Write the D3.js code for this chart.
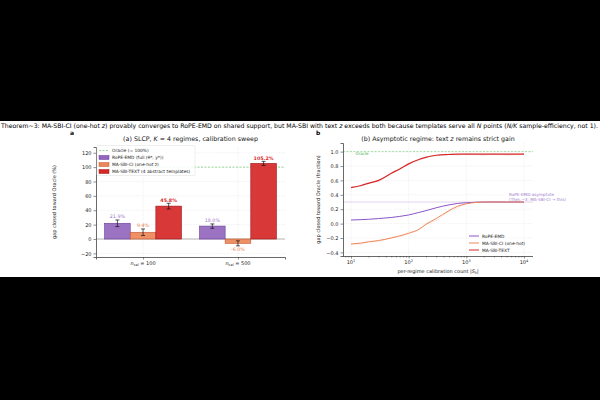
<!DOCTYPE html>
<html>
<head>
<meta charset="utf-8">
<script src="https://cdn.jsdelivr.net/npm/d3@7"></script>
<style>
  html, body { margin: 0; padding: 0; background: #000; }
  svg text { font-family: "DejaVu Sans", sans-serif; }
</style>
</head>
<body>
<div id="vizcontainer"></div>
<script>
const width = 600,
  height = 400;

// ---- data (panel a) ----
const groups = ['100', '500'];
const methods = ['RoPE-EMD', 'MA-SBI-CI', 'MA-SBI-TEXT'];
const ropeVals = [21.9, 18.0];
const ciVals = [9.4, -6.0];
const textVals = [45.8, 105.2];
const ropeErr = [4.6, 3.0];
const ciErr = [4.6, 3.5];
const textErr = [3.9, 2.8];
const barLabels = [['21.9%', '9.4%', '45.8%'], ['18.0%', '-6.0%', '105.2%']];

// ---- data (panel b) ----
const calCounts = [10, 15, 20, 30, 50, 70, 100, 150, 200, 300, 500, 700, 1000, 1500, 2000, 3000, 5000, 7000, 10000];
const ropeCurve = [0.05, 0.055, 0.06, 0.07, 0.085, 0.10, 0.12, 0.155, 0.18, 0.22, 0.26, 0.28, 0.29, 0.297, 0.30, 0.30, 0.30, 0.30, 0.30];
const ciCurve = [-0.285, -0.27, -0.255, -0.235, -0.20, -0.17, -0.135, -0.08, -0.01, 0.07, 0.18, 0.24, 0.275, 0.295, 0.30, 0.30, 0.30, 0.30, 0.30];
const textCurve = [0.50, 0.53, 0.56, 0.60, 0.70, 0.76, 0.83, 0.89, 0.92, 0.95, 0.96, 0.965, 0.965, 0.965, 0.965, 0.965, 0.965, 0.965, 0.965];
const ciRaw = [-0.27, -0.29, -0.24, -0.25, -0.19, -0.18, -0.12, -0.09, 0.01, 0.04, 0.17, 0.22, 0.28, 0.30, 0.29, 0.31, 0.29, 0.30, 0.29];
const textRaw = [0.51, 0.52, 0.57, 0.59, 0.70, 0.75, 0.84, 0.88, 0.93, 0.94, 0.97, 0.95, 0.97, 0.96, 0.95, 0.97, 0.95, 0.96, 0.97];

const colors = {
  'RoPE-EMD': '#9467bd',
  'MA-SBI-CI': '#ee8659',
  'MA-SBI-TEXT': '#d62728'
};
const edges = {
  'RoPE-EMD': '#6a3d9a',
  'MA-SBI-CI': '#c0572e',
  'MA-SBI-TEXT': '#9e1517'
};
const labelColors = {
  'RoPE-EMD': '#9a72c8',
  'MA-SBI-CI': '#ee7a4c',
  'MA-SBI-TEXT': '#d62728'
};

const svg = d3.select('#vizcontainer')
  .append('svg')
  .attr('width', width)
  .attr('height', height);

svg.append('rect').attr('width', width).attr('height', height).attr('fill', '#000');
svg.append('rect').attr('x', 0).attr('y', 121).attr('width', width).attr('height', 156).attr('fill', '#fff');

// main title
const title = svg.append('text')
  .attr('x', 1).attr('y', 128)
  .attr('font-size', 6.2)
  .attr('fill', '#000')
  .attr('textLength', 597)
  .attr('lengthAdjust', 'spacingAndGlyphs');
[['Theorem~3: MA-SBI-CI (one-hot ', false], ['z', true], [') provably converges to RoPE-EMD on shared support, but MA-SBI with text ', false],
 ['z', true], [' exceeds both because templates serve all ', false], ['N', true], [' points (', false], ['N/K', true],
 [' sample-efficiency, not 1).', false]]
  .forEach(([t, it]) => title.append('tspan').attr('font-style', it ? 'italic' : 'normal').text(t));

const axisColor = '#444';
const gridColor = '#e6e6e6';

function styleAxis(g) {
  g.selectAll('.domain').attr('stroke', axisColor).attr('stroke-width', 0.8);
  g.selectAll('.tick line').attr('stroke', axisColor).attr('stroke-width', 0.6);
  g.selectAll('.tick text').attr('font-size', 5).attr('fill', '#222').attr('font-family', 'DejaVu Sans');
}

// ================= panel a =================
const aL = 96, aR = 285, aT = 147, aB = 257;
const xa = d3.scaleLinear().domain([-0.4955, 1.4955]).range([aL, aR]);
const inner = d3.scaleBand().domain(methods).range([-0.405, 0.405]);
const ya = d3.scaleLinear().domain([-25, 128]).range([aB, aT]);

const pa = svg.append('g');

// grid
pa.selectAll('.hgrid').data(ya.ticks(8)).join('line')
  .attr('x1', aL).attr('x2', aR)
  .attr('y1', d => ya(d)).attr('y2', d => ya(d))
  .attr('stroke', gridColor).attr('stroke-width', 0.5).attr('stroke-dasharray', '1.5,1');
pa.selectAll('.vgrid').data(groups).join('line')
  .attr('x1', (d, i) => xa(i)).attr('x2', (d, i) => xa(i))
  .attr('y1', aT).attr('y2', aB)
  .attr('stroke', gridColor).attr('stroke-width', 0.5).attr('stroke-dasharray', '1.5,1');

// zero and oracle lines
pa.append('line').attr('x1', aL).attr('x2', aR).attr('y1', ya(0)).attr('y2', ya(0))
  .attr('stroke', '#999').attr('stroke-width', 0.7);
pa.append('line').attr('x1', aL).attr('x2', aR).attr('y1', ya(100)).attr('y2', ya(100))
  .attr('stroke', '#7fcf7f').attr('stroke-width', 0.8).attr('stroke-dasharray', '2,1.5');

const barData = [];
groups.forEach((g, i) => {
  [ropeVals, ciVals, textVals].forEach((vals, j) => {
    barData.push({
      gi: i, m: methods[j], v: vals[i],
      e: [ropeErr, ciErr, textErr][j][i],
      lab: barLabels[i][j]
    });
  });
});

pa.selectAll('rect.bar').data(barData).join('rect')
  .attr('class', 'bar')
  .attr('x', d => xa(d.gi + inner(d.m)))
  .attr('width', d => xa(inner.bandwidth()) - xa(0))
  .attr('y', d => ya(Math.max(0, d.v)))
  .attr('height', d => Math.abs(ya(d.v) - ya(0)))
  .attr('fill', d => colors[d.m])
  .attr('fill-opacity', 0.92)
  .attr('stroke', d => edges[d.m])
  .attr('stroke-width', 0.6);

// error bars
const eb = pa.selectAll('g.err').data(barData).join('g')
  .attr('transform', d => `translate(${xa(d.gi + inner(d.m) + inner.bandwidth() / 2)},0)`);
eb.append('line').attr('y1', d => ya(d.v - d.e)).attr('y2', d => ya(d.v + d.e))
  .attr('stroke', '#111').attr('stroke-width', 0.7);
eb.append('line').attr('x1', -2).attr('x2', 2).attr('y1', d => ya(d.v - d.e)).attr('y2', d => ya(d.v - d.e))
  .attr('stroke', '#111').attr('stroke-width', 0.7);
eb.append('line').attr('x1', -2).attr('x2', 2).attr('y1', d => ya(d.v + d.e)).attr('y2', d => ya(d.v + d.e))
  .attr('stroke', '#111').attr('stroke-width', 0.7);

// value labels
pa.selectAll('text.vlab').data(barData).join('text')
  .attr('x', d => xa(d.gi + inner(d.m) + inner.bandwidth() / 2))
  .attr('y', d => d.v >= 0 ? ya(d.v + d.e) - 1.5 : ya(d.v - d.e) + 5)
  .attr('text-anchor', 'middle')
  .attr('font-size', 4.8)
  .attr('font-weight', d => d.m === 'MA-SBI-TEXT' ? 'bold' : 'normal')
  .attr('fill', d => labelColors[d.m])
  .text(d => d.lab);

// axes
pa.append('g').attr('transform', `translate(${aL},0)`)
  .call(d3.axisLeft(ya).tickValues(d3.range(-20, 121, 20)).tickSize(2.5).tickPadding(2)
    .tickFormat(d => d < 0 ? '\u2212' + Math.abs(d) : d))
  .call(styleAxis);
pa.append('g').attr('transform', `translate(0,${aB})`)
  .call(d3.axisBottom(xa).tickValues([0, 1]).tickSize(2.5).tickFormat(''))
  .call(styleAxis);
groups.forEach((g, i) => {
  const t = pa.append('text').attr('x', xa(i)).attr('y', 265).attr('text-anchor', 'middle')
    .attr('font-size', 5).attr('fill', '#222');
  t.append('tspan').attr('font-style', 'italic').text('n');
  t.append('tspan').attr('font-size', 3.5).attr('dy', 1.2).text('cal');
  t.append('tspan').attr('dy', -1.2).text(' = ' + g);
});

pa.append('text').attr('transform', `translate(56,${(aT + aB) / 2}) rotate(-90)`)
  .attr('text-anchor', 'middle').attr('font-size', 5).attr('fill', '#222')
  .text('gap closed toward Oracle (%)');
pa.append('text').attr('x', 70).attr('y', 135).attr('font-size', 6).attr('font-weight', 'bold').text('a');
const ta = pa.append('text').attr('x', (aL + aR) / 2).attr('y', 141).attr('text-anchor', 'middle')
  .attr('font-size', 6.3).attr('fill', '#111');
ta.append('tspan').text('(a) SLCP, ');
ta.append('tspan').attr('font-style', 'italic').text('K');
ta.append('tspan').text(' = 4 regimes, calibration sweep');

// legend a
const lga = pa.append('g');
lga.append('rect').attr('x', 97).attr('y', 145.5).attr('width', 98).attr('height', 30)
  .attr('fill', '#fff').attr('fill-opacity', 0.85).attr('stroke', '#ddd').attr('stroke-width', 0.5).attr('rx', 1);
const legA = [
  { t: 'Oracle (= 100%)', type: 'line' },
  { t: 'RoPE-EMD (full (\u03b8*, y*))', m: 'RoPE-EMD' },
  { t: 'MA-SBI-CI (one-hot z)', m: 'MA-SBI-CI' },
  { t: 'MA-SBI-TEXT (4 abstract templates)', m: 'MA-SBI-TEXT' }
];
legA.forEach((d, i) => {
  const cy = 150.5 + i * 7;
  if (d.type === 'line') {
    lga.append('line').attr('x1', 99).attr('x2', 109).attr('y1', cy).attr('y2', cy)
      .attr('stroke', '#7fcf7f').attr('stroke-width', 0.8).attr('stroke-dasharray', '2,1.5');
  } else {
    lga.append('rect').attr('x', 99).attr('y', cy - 2).attr('width', 10).attr('height', 4)
      .attr('fill', colors[d.m]).attr('stroke', edges[d.m]).attr('stroke-width', 0.5);
  }
  lga.append('text').attr('x', 112).attr('y', cy + 1.6).attr('font-size', 4.4).attr('fill', '#222').text(d.t);
});

// ================= panel b =================
const bL = 343, bR = 533, bT = 143, bB = 256;
const xb = d3.scaleLog().domain([10, 10000]).range([351, 524]);
const yb = d3.scaleLinear().domain([-0.45, 1.12]).range([bB, bT]);
const pb = svg.append('g');

const majorX = [10, 100, 1000, 10000];
pb.selectAll('.vgridb').data(majorX).join('line')
  .attr('x1', d => xb(d)).attr('x2', d => xb(d)).attr('y1', bT).attr('y2', bB)
  .attr('stroke', gridColor).attr('stroke-width', 0.5).attr('stroke-dasharray', '1.5,1');
pb.selectAll('.hgridb').data(d3.range(-0.4, 1.01, 0.2)).join('line')
  .attr('x1', bL).attr('x2', bR).attr('y1', d => yb(d)).attr('y2', d => yb(d))
  .attr('stroke', gridColor).attr('stroke-width', 0.5).attr('stroke-dasharray', '1.5,1');

// oracle + asymptote
pb.append('line').attr('x1', bL).attr('x2', bR).attr('y1', yb(1)).attr('y2', yb(1))
  .attr('stroke', '#7fcf7f').attr('stroke-width', 0.7).attr('stroke-dasharray', '2,1.5');
pb.append('text').attr('x', xb(12)).attr('y', yb(1) + 3).attr('font-size', 4).attr('fill', '#4caf50').text('Oracle');
pb.append('line').attr('x1', bL).attr('x2', bR).attr('y1', yb(0.3)).attr('y2', yb(0.3))
  .attr('stroke', '#c9b3e0').attr('stroke-width', 0.6);
pb.append('text').attr('x', 509).attr('y', yb(0.3) - 6).attr('font-size', 4.2).attr('fill', '#a07ccf').text('RoPE-EMD asymptote');
pb.append('text').attr('x', 509).attr('y', yb(0.3) - 1.5).attr('font-size', 4.2).attr('fill', '#a07ccf').text('(Thm.~3: MA-SBI-CI \u2192 this)');

const line = vals => d3.line()
  .x((d, i) => xb(calCounts[i]))
  .y(d => yb(d))
  .curve(d3.curveMonotoneX)(vals);

pb.append('path').attr('d', line(ciRaw)).attr('fill', 'none').attr('stroke', colors['MA-SBI-CI']).attr('stroke-opacity', 0.25).attr('stroke-width', 0.7);
pb.append('path').attr('d', line(textRaw)).attr('fill', 'none').attr('stroke', colors['MA-SBI-TEXT']).attr('stroke-opacity', 0.18).attr('stroke-width', 0.7);

[[ropeCurve, 'RoPE-EMD'], [ciCurve, 'MA-SBI-CI'], [textCurve, 'MA-SBI-TEXT']].forEach(([vals, m]) => {
  pb.append('path').attr('d', line(vals)).attr('fill', 'none')
    .attr('stroke', m === 'RoPE-EMD' ? '#8a55c9' : colors[m])
    .attr('stroke-width', m === 'MA-SBI-TEXT' ? 1.2 : 1.0);
});

// axes b
pb.append('g').attr('transform', `translate(${bL},0)`)
  .call(d3.axisLeft(yb).tickValues([-0.4, -0.2, 0, 0.2, 0.4, 0.6, 0.8, 1.0]).tickSize(2.5).tickPadding(2)
    .tickFormat(d => (d < 0 ? '\u2212' : '') + Math.abs(d).toFixed(1)))
  .call(styleAxis);
const minorX = [];
[10, 100, 1000].forEach(b => { for (let k = 2; k <= 9; k++) minorX.push(b * k); });
minorX.push(5, 6, 7, 8, 9, 20000);
const xbAxisMinor = pb.append('g').attr('transform', `translate(0,${bB})`)
  .call(d3.axisBottom(xb).tickValues(minorX.filter(v => xb(v) >= bL && xb(v) <= bR)).tickSize(1.5).tickFormat(''))
  .call(styleAxis);
xbAxisMinor.select('.domain').remove();
pb.append('g').attr('transform', `translate(0,${bB})`)
  .call(d3.axisBottom(xb).tickValues(majorX).tickSize(2.5).tickFormat(''))
  .call(styleAxis)
  .call(g => g.select('.domain').attr('d', `M${bL},0.5H${bR}`));
majorX.forEach(v => {
  const t = pb.append('text').attr('x', xb(v)).attr('y', 264).attr('text-anchor', 'middle')
    .attr('font-size', 5).attr('fill', '#222');
  t.append('tspan').text('10');
  t.append('tspan').attr('font-size', 3.5).attr('dy', -2).text(Math.round(Math.log10(v)));
});

const xlb = pb.append('text').attr('x', (bL + bR) / 2).attr('y', 273).attr('text-anchor', 'middle')
  .attr('font-size', 5).attr('fill', '#222');
xlb.append('tspan').text('per-regime calibration count |');
xlb.append('tspan').attr('font-style', 'italic').text('S');
xlb.append('tspan').attr('font-style', 'italic').attr('font-size', 3.5).attr('dy', 1).text('k');
xlb.append('tspan').attr('dy', -1).text('|');

pb.append('text').attr('transform', `translate(320,${(bT + bB) / 2}) rotate(-90)`)
  .attr('text-anchor', 'middle').attr('font-size', 5).attr('fill', '#222')
  .text('gap closed toward Oracle (fraction)');
pb.append('text').attr('x', 316).attr('y', 135).attr('font-size', 6).attr('font-weight', 'bold').text('b');
const tb = pb.append('text').attr('x', (bL + bR) / 2).attr('y', 141).attr('text-anchor', 'middle')
  .attr('font-size', 6.3).attr('fill', '#111');
tb.append('tspan').text('(b) Asymptotic regime: text ');
tb.append('tspan').attr('font-style', 'italic').text('z');
tb.append('tspan').text(' remains strict gain');

// legend b
const legB = [['RoPE-EMD', 'RoPE-EMD'], ['MA-SBI-CI (one-hot)', 'MA-SBI-CI'], ['MA-SBI-TEXT', 'MA-SBI-TEXT']];
legB.forEach(([t, m], i) => {
  const cy = 236 + i * 7;
  pb.append('line').attr('x1', 469).attr('x2', 479).attr('y1', cy).attr('y2', cy)
    .attr('stroke', m === 'RoPE-EMD' ? '#8a55c9' : colors[m]).attr('stroke-width', 1.0);
  pb.append('text').attr('x', 482).attr('y', cy + 1.6).attr('font-size', 4.4).attr('fill', '#222').text(t);
});
</script>
</body>
</html>
